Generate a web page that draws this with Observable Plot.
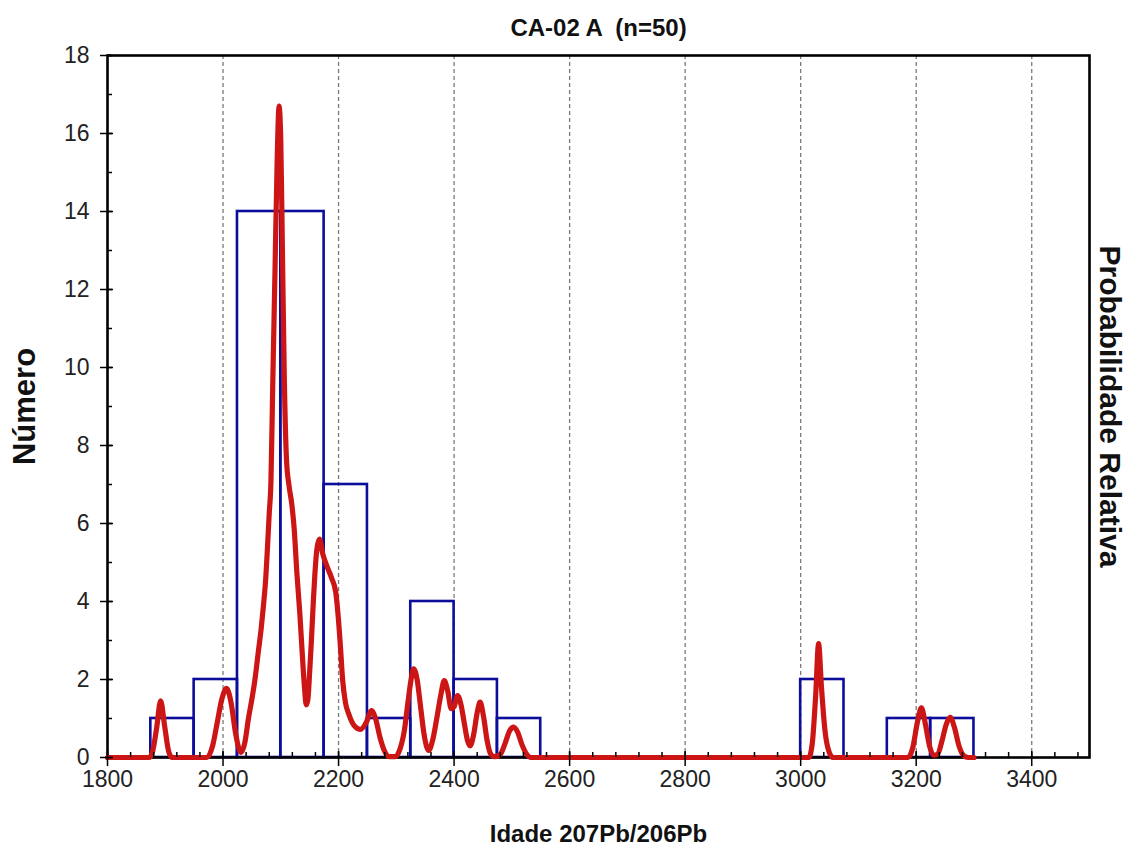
<!DOCTYPE html>
<html>
<head>
<meta charset="utf-8">
<script src="https://cdn.jsdelivr.net/npm/d3@7"></script>
<script src="https://cdn.jsdelivr.net/npm/@observablehq/plot@0.6"></script>
<style>
  html, body { margin: 0; padding: 0; background: #fff; }
  #chart svg { display: block; }
</style>
</head>
<body>
<div id="chart"></div>
<script>
// ---- Data ----
const chartTitle = "CA-02 A  (n=50)";
const xLabel = "Idade 207Pb/206Pb";
const yLabel = "Número";
const y2Label = "Probabilidade Relativa";

// histogram bins (age start of each 75 Ma bin) and counts
const binWidth = 75;
const binStart = [1875, 1950, 2025, 2100, 2175, 2250, 2325, 2400, 2475, 3000, 3150, 3225];
const binCount = [1, 2, 14, 14, 7, 1, 4, 2, 1, 2, 1, 1];

// probability density curve (in left-axis units)
const curveAge = [1800,1872,1878,1885,1892,1899,1906,1912,1972,1982,1990,1998,2006,2014,2022,2031,2038,2044,2050,2055,2061,2066,2070,2074,2077,2080,2083,2086,2090,2094,2097,2100,2103,2106,2110,2114,2119,2123,2128,2133,2137,2141,2144,2147,2150,2153,2156,2159,2163,2167,2173,2180,2188,2195,2199,2203,2207,2212,2218,2228,2238,2248,2257,2264,2272,2280,2288,2298,2306,2314,2320,2325,2330,2336,2342,2348,2356,2363,2370,2377,2383,2389,2395,2400,2406,2412,2418,2423,2428,2434,2440,2445,2451,2457,2463,2470,2480,2488,2496,2503,2510,2517,2525,2533,3014,3020,3026,3031,3036,3042,3049,3056,3186,3194,3202,3209,3216,3223,3230,3237,3245,3252,3259,3266,3274,3282,3290,3300];
const curveProb = [0,0,0.15,0.75,1.45,0.8,0.15,0,0,0.3,0.9,1.5,1.77,1.4,0.6,0.13,0.4,1.0,1.5,1.97,2.7,3.3,3.9,4.6,5.4,6.26,7.1,9.5,12.5,15.5,16.7,15.8,12.8,9.8,7.6,7.0,6.5,5.9,4.7,3.68,2.7,1.8,1.35,1.5,2.2,3.0,3.9,4.7,5.4,5.6,5.2,4.9,4.6,4.25,3.68,2.9,2.0,1.4,1.1,0.8,0.72,0.9,1.2,1.0,0.5,0.15,0.02,0.02,0.2,0.7,1.4,1.95,2.27,2.0,1.3,0.6,0.18,0.45,1.0,1.6,1.97,1.7,1.25,1.3,1.59,1.35,0.85,0.45,0.3,0.6,1.15,1.42,1.05,0.45,0.1,0.02,0.08,0.35,0.68,0.78,0.65,0.35,0.1,0,0,0.35,1.6,2.92,1.8,0.7,0.15,0,0,0.25,0.9,1.27,0.85,0.3,0.06,0.08,0.45,0.85,1.03,0.78,0.3,0.05,0,0];

// axes
const xDomain = [1800, 3500];
const yDomain = [0, 18];
const xTicks = [1800, 2000, 2200, 2400, 2600, 2800, 3000, 3200, 3400];
const xGrid = [2000, 2200, 2400, 2600, 2800, 3000, 3200, 3400];
const xMinor = d3.range(1840, 3500, 40);
const yTicks = [0, 2, 4, 6, 8, 10, 12, 14, 16, 18];
const yMinor = d3.range(0, 19, 1);

// ---- Build tables ----
const bins = binStart.map((s, i) => ({x1: s, x2: s + binWidth, n: binCount[i]}));
const curve = curveAge.map((a, i) => ({age: a, p: curveProb[i]}));

const font = "'Liberation Sans', Arial, sans-serif";

const chart = Plot.plot({
  width: 1129,
  height: 852,
  marginLeft: 107,
  marginRight: 40,
  marginTop: 55,
  marginBottom: 95,
  style: {fontFamily: font, background: "#fff"},
  x: {domain: xDomain, axis: null},
  y: {domain: yDomain, axis: null},
  marks: [
    // dashed vertical grid
    Plot.ruleX(xGrid, {stroke: "#7a7a7a", strokeWidth: 1.3, strokeDasharray: "4,3"}),
    // histogram bars
    Plot.rect(bins, {x1: "x1", x2: "x2", y1: 0, y2: "n", fill: "none", stroke: "#0d0d9c", strokeWidth: 2.6}),
    // frame
    Plot.frame({stroke: "#000", strokeWidth: 2.6}),
    // probability curve
    Plot.line(curve, {x: "age", y: "p", stroke: "#cc1515", strokeWidth: 5.2, curve: "monotone-x", strokeLinejoin: "round"}),
    // x minor ticks (inward)
    Plot.ruleX(xMinor, {y1: 0, y2: 0, insetTop: -5, stroke: "#000", strokeWidth: 1.5}),
    // x major ticks (crossing)
    Plot.ruleX(xTicks, {y1: 0, y2: 0, insetTop: -6, insetBottom: -9, stroke: "#000", strokeWidth: 1.5}),
    // y minor ticks (inward)
    Plot.ruleY(yMinor, {x1: xDomain[0], x2: xDomain[0], insetRight: -5, stroke: "#000", strokeWidth: 1.5}),
    // y major ticks (crossing)
    Plot.ruleY(yTicks, {x1: xDomain[0], x2: xDomain[0], insetLeft: -7, insetRight: -6, stroke: "#000", strokeWidth: 1.5}),
    // tick labels
    Plot.text(xTicks, {x: d => d, frameAnchor: "bottom", lineAnchor: "middle", dy: 22, text: d => String(d), fontSize: 23, fill: "#222"}),
    Plot.text(yTicks, {y: d => d, frameAnchor: "left", lineAnchor: "middle", dx: -18, textAnchor: "end", text: d => String(d), fontSize: 23, fill: "#222"}),
    // axis titles
    Plot.text([xLabel], {frameAnchor: "bottom", lineAnchor: "middle", dy: 77, fontSize: 24, fontWeight: "bold", fill: "#111"}),
    Plot.text([yLabel], {frameAnchor: "left", textAnchor: "middle", lineAnchor: "middle", dx: -82, rotate: -90, fontSize: 31, fontWeight: "bold", fill: "#111"}),
    Plot.text([y2Label], {frameAnchor: "right", textAnchor: "middle", lineAnchor: "middle", dx: 20, rotate: 90, fontSize: 30, fontWeight: "bold", fill: "#111"}),
    // chart title
    Plot.text([chartTitle], {frameAnchor: "top", lineAnchor: "middle", dy: -27, fontSize: 24, fontWeight: "bold", fill: "#111"})
  ]
});

document.getElementById("chart").appendChild(chart);
</script>
</body>
</html>
